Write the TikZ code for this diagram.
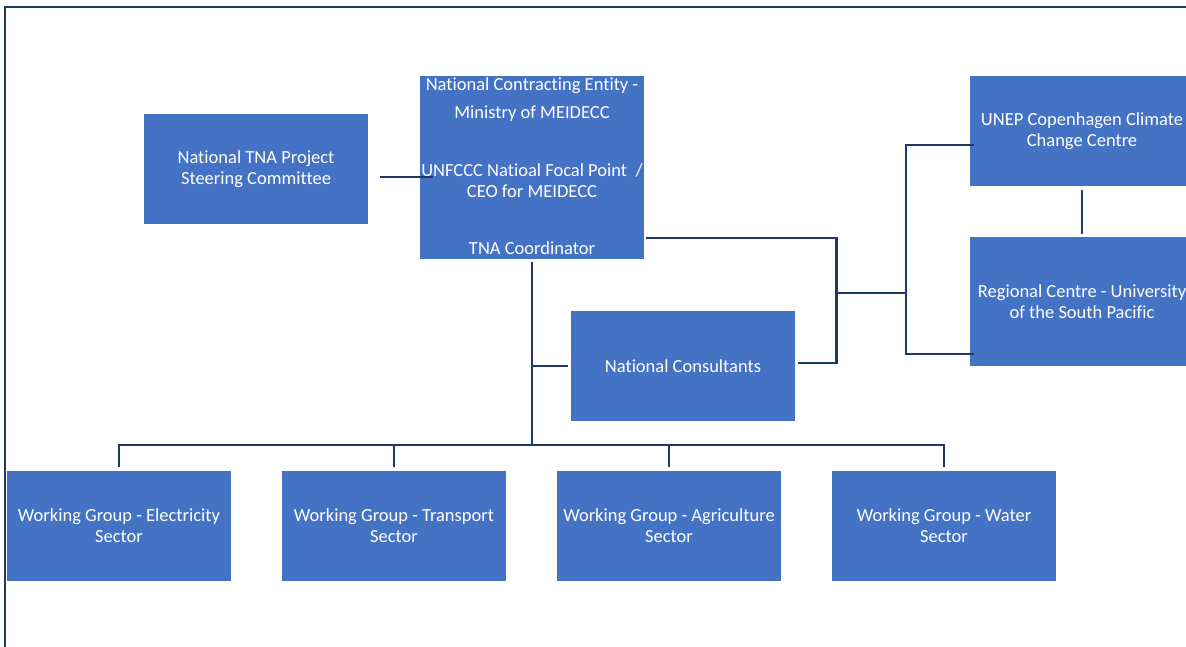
\documentclass[tikz,border=0pt]{standalone}
\usepackage{fontspec}
\setmainfont[Ligatures={NoCommon,NoRare,NoDiscretionary}]{Carlito}
\usetikzlibrary{calc}
\definecolor{boxblue}{HTML}{4472C4}
\definecolor{linenavy}{HTML}{203864}
\begin{document}
\begin{tikzpicture}[x=1pt,y=-1pt,
  box/.style={fill=boxblue, draw=none, minimum width=224pt, minimum height=110pt,
    inner sep=0pt, text=white, font=\fontsize{18.5}{21}\selectfont, align=center},
  lbl/.style={text=white, font=\fontsize{18.5}{21}\selectfont, inner sep=0pt, align=center},
  conn/.style={draw=linenavy, line width=2.6pt},
  frame/.style={draw=linenavy, line width=2pt}]
\useasboundingbox (0,0) rectangle (1186,646);
\draw[frame] (1190,7) -- (5,7) -- (5,650);

\node[box] (steer) at (256,169) {National TNA Project\\Steering Committee};
\node[box, minimum height=183pt] (central) at (532,167.5) {};
\node[lbl] (c1) at ($(central.north)+(0,10)$) {National Contracting Entity -};
\node[lbl] (c2) at ($(central.north)+(0,38)$) {Ministry of MEIDECC};
\node[lbl] (c3) at ($(central.north)+(0,95)$) {UNFCCC Natioal Focal Point \ /};
\node[lbl] (c4) at ($(central.north)+(0,115)$) {CEO for MEIDECC};
\node[lbl] (c5) at ($(central.north)+(0,172)$) {TNA Coordinator};
\node[box] (unep) at (1082,131) {UNEP Copenhagen Climate\\Change Centre};
\node[box, minimum height=129pt] (regional) at (1082,301.5) {Regional Centre - University\\of the South Pacific};
\node[box] (cons) at (683,366) {National Consultants};
\node[box] (wg1) at (119,526) {Working Group - Electricity\\Sector};
\node[box] (wg2) at (394,526) {Working Group - Transport\\Sector};
\node[box] (wg3) at (669,526) {Working Group - Agriculture\\Sector};
\node[box] (wg4) at (944,526) {Working Group - Water\\Sector};

% steering -- central
\draw[conn] ($(steer.east)+(12,8)$) -- ($(central.west)+(13,9.5)$);
% trunk and bus
\coordinate (bus) at ($(central.south |- wg1.north)+(0,-26)$);
\draw[conn] ($(central.south)+(0,3)$) -- (bus);
\draw[conn] ($(wg1.north)+(0,-4)$) -- (wg1.north |- bus) -- (wg4.north |- bus) -- ($(wg4.north)+(0,-4)$);
\draw[conn] (wg2.north |- bus) -- ($(wg2.north)+(0,-4)$);
\draw[conn] (wg3.north |- bus) -- ($(wg3.north)+(0,-4)$);
% consultants tap
\draw[conn] (central.south |- cons.west) -- ($(cons.west)+(-3,0)$);
% right side
\coordinate (j1) at ($(cons.east)+(41,-3)$);
\draw[conn] ($(central.east)+(2,70.5)$) -| (j1) -- ($(cons.east)+(3,-3)$);
\coordinate (m) at ($(j1)+(0,-70)$);
\draw[conn] (m) -- ++(70,0);
\draw[conn] ($(unep.west)+(4,14)$) -- ++(-68,0) |- ($(regional.west)+(4,52.5)$);
\draw[conn] ($(unep.south)+(0,4)$) -- ($(regional.north)+(0,-3)$);
\end{tikzpicture}
\end{document}
